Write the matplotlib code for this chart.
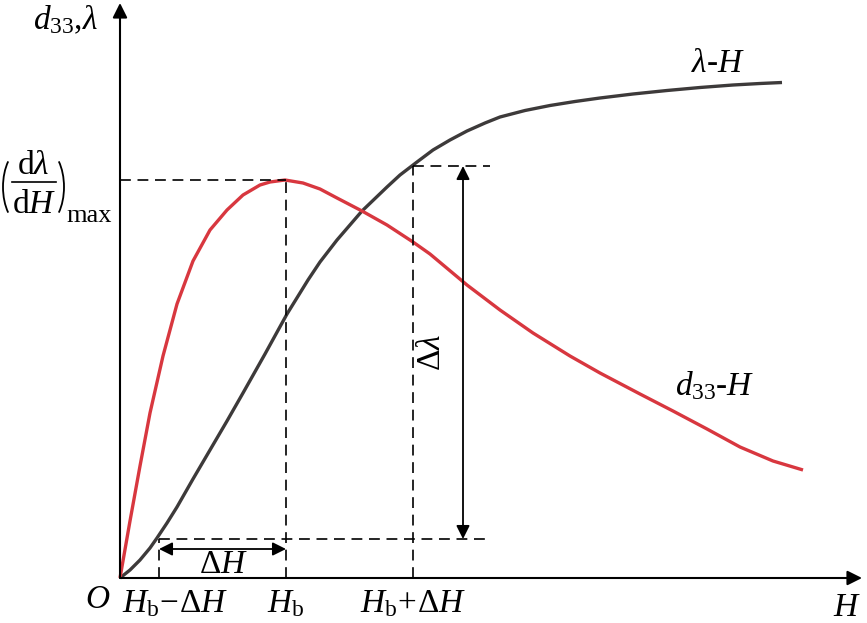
import matplotlib
matplotlib.use("Agg")
import matplotlib.pyplot as plt
from matplotlib.patches import Arc

plt.rcParams['font.family'] = 'Liberation Serif'
plt.rcParams['mathtext.fontset'] = 'custom'
plt.rcParams['mathtext.rm'] = 'Liberation Serif'
plt.rcParams['mathtext.it'] = 'Liberation Serif:italic'

# lambda-H curve (schematic units)
H_lam = [0, 10, 20, 30, 37, 47, 57, 73, 90, 107, 123, 145, 167, 188, 200, 217, 242, 267,
         280, 297, 313, 330, 347, 365, 380, 405, 430, 455, 480, 513, 547, 580, 613, 640, 662]
lam = [0, 8, 18, 30, 40, 55, 71, 99, 128, 157, 185, 224, 264, 298, 316, 338, 367, 391,
       403, 416, 428, 438, 447, 455, 461, 467.5, 472.5, 476.5, 480, 484, 487.5, 490.5, 493,
       494.5, 495.5]

# d33-H curve
H_d33 = [0, 10, 20, 30, 43, 57, 73, 90, 107, 123, 140, 150, 165, 183, 200, 217, 242, 267,
         293, 310, 347, 380, 413, 450, 480, 520, 553, 587, 620, 653, 683]
d33 = [0, 57, 112, 165, 222, 274, 317, 348, 368, 383, 393, 396, 398, 395, 389, 380, 367, 353,
       336, 324, 293, 268, 245, 222, 205, 184, 167, 149, 131, 117, 108]

# key points
Hb = 166
dH = 127
d33_max = 398
lam_lo = 39
lam_hi = 412

x_end = 742
y_end = 575

fig = plt.figure(figsize=(8.67, 6.23), dpi=100)
ax = fig.add_axes([0, 0, 1, 1])
ax.set_xlim(-120, 747)
ax.set_ylim(-45, 578)
ax.axis('off')

# axes with arrows
arr = dict(arrowstyle='-|>', color='black', lw=1.5, mutation_scale=22, shrinkA=0, shrinkB=0)
ax.annotate('', xy=(x_end, 0), xytext=(0, 0), arrowprops=arr)
ax.annotate('', xy=(0, y_end), xytext=(0, 0), arrowprops=arr)

# curves
ax.plot(H_lam, lam, color='#3d3a3a', lw=2.4, solid_joinstyle='round', solid_capstyle='butt')
ax.plot(H_d33, d33, color='#d8373f', lw=2.4, solid_joinstyle='round', solid_capstyle='butt')

# dashed guides
dash = dict(color='black', lw=1.2, ls=(0, (6.5, 4)))
ax.plot([0, Hb], [d33_max, d33_max], **dash)
ax.plot([Hb, Hb], [0, d33_max], **dash)
ax.plot([Hb + dH, Hb + dH + 77], [lam_hi, lam_hi], **dash)
ax.plot([Hb + dH, Hb + dH], [0, lam_hi], **dash)
ax.plot([Hb - dH, Hb + dH + 77], [lam_lo, lam_lo], **dash)
ax.plot([Hb - dH, Hb - dH], [0, lam_lo], **dash)

# double arrows
darr = dict(arrowstyle='<|-|>', color='black', lw=1.3, mutation_scale=20, shrinkA=0, shrinkB=0)
ax.annotate('', xy=(Hb, 29), xytext=(Hb - dH, 29), arrowprops=darr)
ax.annotate('', xy=(343, lam_hi), xytext=(343, lam_lo), arrowprops=darr)

fs = 24
ax.text(104, 13, r'$\Delta H$', fontsize=fs, ha='center', va='center')
ax.text(312, 226, r'$\Delta\lambda$', fontsize=fs, ha='center', va='center', rotation=90)

ax.text(-22, -22, r'$O$', fontsize=fs, ha='center', va='center')
ax.text(Hb - dH + 16, -26, r'$H_{\mathrm{b}}\!-\!\Delta H$', fontsize=fs, ha='center', va='center')
ax.text(Hb, -26, r'$H_{\mathrm{b}}$', fontsize=fs, ha='center', va='center')
ax.text(Hb + dH, -26, r'$H_{\mathrm{b}}\!+\!\Delta H$', fontsize=fs, ha='center', va='center')
ax.text(727, -30, r'$H$', fontsize=fs, ha='center', va='center')

ax.text(-55, 558, r'$d_{33}$,$\lambda$', fontsize=fs, ha='center', va='center')

# (d lambda / dH)_max label, built by hand
ax.text(-87, 412, r'd$\lambda$', fontsize=fs, ha='center', va='center')
ax.text(-86, 373, r'd$H$', fontsize=fs, ha='center', va='center')
ax.plot([-108, -64], [396, 396], color='black', lw=1.2)
ax.add_patch(Arc((-97, 391), 40, 76, theta1=120, theta2=240, color='black', lw=1.3))
ax.add_patch(Arc((-76, 391), 40, 76, theta1=-60, theta2=60, color='black', lw=1.3))
ax.text(-31, 362, 'max', fontsize=19, ha='center', va='center')

ax.text(598, 514, r'$\lambda$-$H$', fontsize=fs, ha='center', va='center')
ax.text(595, 192, r'$d_{33}$-$H$', fontsize=fs, ha='center', va='center')

fig.savefig('out.png', dpi=100)
